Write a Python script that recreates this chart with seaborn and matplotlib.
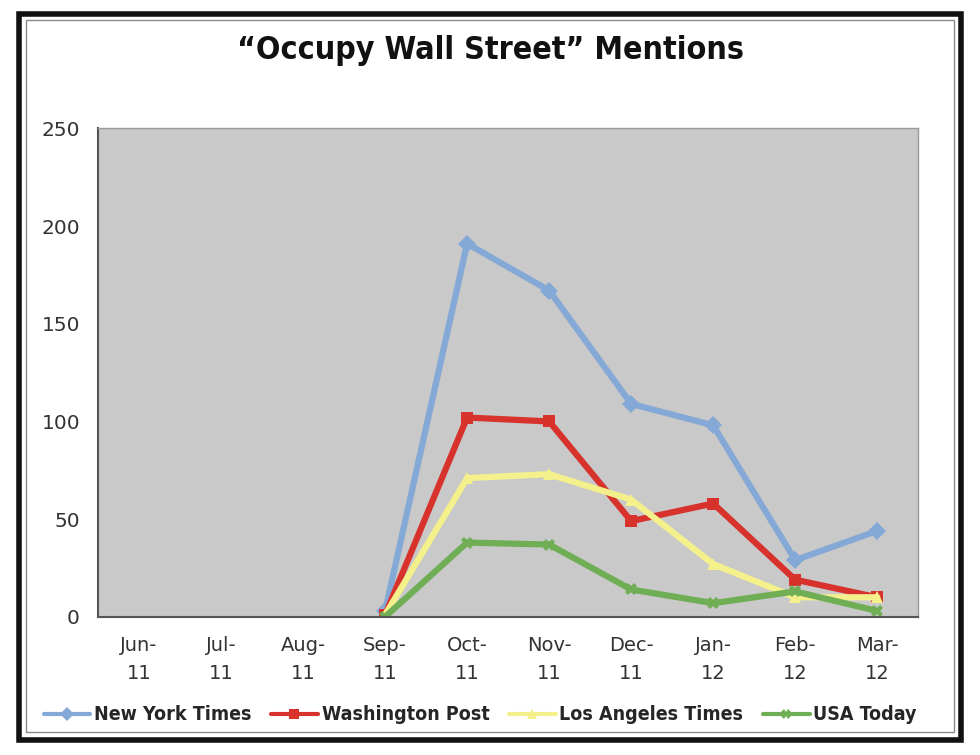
import pandas as pd
import numpy as np
import seaborn as sns
import matplotlib.pyplot as plt
from matplotlib.patches import Rectangle
from matplotlib.lines import Line2D

months = ['Jun-\n11', 'Jul-\n11', 'Aug-\n11', 'Sep-\n11', 'Oct-\n11',
          'Nov-\n11', 'Dec-\n11', 'Jan-\n12', 'Feb-\n12', 'Mar-\n12']
papers = ['New York Times', 'Washington Post', 'Los Angeles Times', 'USA Today']

# values start at Sep-11
nyt = [3, 191, 167, 109, 98, 29, 44]
wapo = [1, 102, 100, 49, 58, 19, 10]
lat = [1, 71, 73, 60, 27, 10, 10]
usa = [0, 38, 37, 14, 7, 13, 3]

colors = ['#85a9d6', '#d8322c', '#f4f08c', '#6fae55']
markers = ['D', 's', '^', 'X']

rows = []
for name, vals in zip(papers, [nyt, wapo, lat, usa]):
    for i, v in enumerate(vals):
        rows.append({'month': i + 3, 'paper': name, 'mentions': v})
df = pd.DataFrame(rows)

sns.set_style('white')
fig = plt.figure(figsize=(9.8, 7.55), dpi=100)
ax = fig.add_axes([0.1, 0.183, 0.837, 0.647])
ax.set_facecolor('#c9c9c9')

sns.lineplot(data=df, x='month', y='mentions', hue='paper', style='paper',
             hue_order=papers, style_order=papers,
             palette=dict(zip(papers, colors)),
             markers=dict(zip(papers, markers)), dashes=False,
             linewidth=4.5, markersize=9, markeredgewidth=0,
             legend=False, ax=ax)

ax.set_xlim(-0.5, 9.5)
ax.set_ylim(0, 250)
ax.set_yticks([0, 50, 100, 150, 200, 250])
ax.set_xticks(range(len(months)))
ax.set_xticklabels(months, fontsize=14, color='#333333', linespacing=1.55)
ax.set_xticks(np.arange(-0.5, 10, 1), minor=True)
ax.tick_params(axis='x', which='major', length=0, pad=14)
ax.tick_params(axis='x', which='minor', length=6, direction='out', color='#555555')
ax.tick_params(axis='y', labelsize=14.5, labelcolor='#333333', length=5,
               direction='out', color='#555555', pad=8)
ax.set_xlabel('')
ax.set_ylabel('')
for side in ['left', 'bottom']:
    ax.spines[side].set_color('#555555')
    ax.spines[side].set_linewidth(1.5)
for side in ['right', 'top']:
    ax.spines[side].set_color('#9a9a9a')
    ax.spines[side].set_linewidth(1)

fig.text(0.5, 0.933, '\u201cOccupy Wall Street\u201d Mentions', ha='center',
         va='center', fontsize=23, fontweight='bold', fontstretch='condensed',
         color='#111111')

handles = [Line2D([0], [0], color=c, marker=m, lw=3, markersize=7,
                  markeredgewidth=0) for c, m in zip(colors, markers)]
fig.legend(handles, papers, loc='center', bbox_to_anchor=(0.49, 0.053), ncol=4,
           frameon=False, handlelength=2.4, columnspacing=1.0, handletextpad=0.2,
           prop={'family': 'DejaVu Sans', 'stretch': 'condensed',
                 'weight': 'bold', 'size': 14})

# picture frame
fig.patches.append(Rectangle((0.019, 0.02), 0.962, 0.962, transform=fig.transFigure,
                             fill=False, edgecolor='#111111', linewidth=4))
fig.patches.append(Rectangle((0.027, 0.03), 0.946, 0.944, transform=fig.transFigure,
                             fill=False, edgecolor='#8a8a8a', linewidth=1))

fig.savefig('out.png', dpi=100)
